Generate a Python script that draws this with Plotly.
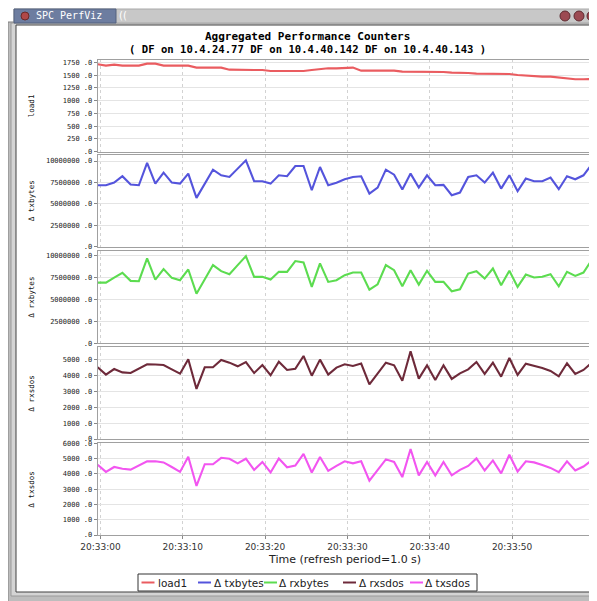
import plotly.graph_objects as go
import pandas as pd

# page body has an 8px margin: the figure is placed at (8, 8) in the 597x601 window
OFF = 8
W, H = 597 - OFF, 601 - OFF

# ---------------- data ----------------
series_names = ["load1", "Δ txbytes", "Δ rxbytes", "Δ rxsdos", "Δ txsdos"]
series_colors = ["#ea5c60", "#5454dc", "#5cdc50", "#6e2a3a", "#f255f0"]

load1 = [1711, 1685, 1704, 1685, 1685, 1685, 1724, 1724, 1685, 1685,
         1685, 1685, 1646, 1646, 1646, 1646, 1606, 1600, 1600, 1600,
         1600, 1580, 1580, 1580, 1580, 1580, 1600, 1619, 1632, 1632,
         1646, 1646, 1587, 1587, 1587, 1587, 1587, 1567, 1567, 1567,
         1567, 1567, 1561, 1548, 1548, 1541, 1528, 1528, 1521, 1521,
         1521, 1502, 1489, 1469, 1469, 1469, 1450, 1430, 1417, 1417,
         1423]

txbytes = [7170000, 7170000, 7480000, 8220000, 7250000, 7170000, 9770000, 7360000, 8640000, 7480000,
           7360000, 8530000, 5700000, 7360000, 8990000, 8330000, 8140000, 9110000, 10080000, 7640000,
           7640000, 7360000, 8330000, 8220000, 9420000, 9420000, 6590000, 9300000, 7170000, 7460000,
           7870000, 8140000, 8220000, 6200000, 6900000, 8990000, 8410000, 6670000, 8530000, 6900000,
           8330000, 7170000, 7210000, 6010000, 6320000, 8140000, 8330000, 7480000, 8640000, 6780000,
           8330000, 6470000, 7950000, 7640000, 7640000, 8060000, 6710000, 8220000, 7870000, 8330000,
           9610000]

rxbytes = [6930000, 6930000, 7510000, 8050000, 7130000, 7090000, 9690000, 7280000, 8470000, 7470000,
           7200000, 8430000, 5670000, 7320000, 8930000, 8240000, 7890000, 8930000, 9960000, 7590000,
           7590000, 7280000, 8160000, 8160000, 9390000, 9230000, 6440000, 9120000, 7010000, 7200000,
           7780000, 8080000, 8080000, 6130000, 6740000, 8930000, 8350000, 6510000, 8350000, 6700000,
           8280000, 7010000, 7010000, 5940000, 6170000, 7970000, 8240000, 7390000, 8540000, 6630000,
           8280000, 6440000, 7850000, 7510000, 7590000, 7890000, 6510000, 8160000, 7700000, 8080000,
           9500000]

rxsdos = [4500, 4040, 4390, 4180, 4140, 4410, 4690, 4670, 4640, 4370,
          4100, 5000, 3140, 4500, 4500, 4960, 4790, 4560, 4830, 4140,
          4640, 4000, 4850, 4330, 4410, 5210, 3970, 4980, 4040, 4480,
          4690, 4580, 4730, 3430, 4120, 4790, 4620, 3660, 5500, 3790,
          4620, 3700, 4620, 3770, 4120, 4370, 4830, 4080, 4790, 3910,
          5080, 4020, 4730, 4600, 4460, 4270, 3930, 4750, 4080, 4330,
          4790]

txsdos = [4600, 4130, 4450, 4330, 4280, 4560, 4820, 4820, 4750, 4450,
          4130, 5120, 3210, 4630, 4630, 5050, 4990, 4690, 4990, 4260,
          4780, 4090, 5010, 4430, 4540, 5310, 4090, 5100, 4200, 4520,
          4820, 4690, 4820, 3550, 4280, 4950, 4780, 3790, 5630, 3900,
          4780, 3900, 4780, 3900, 4260, 4520, 5010, 4220, 4880, 4030,
          5250, 4150, 4820, 4750, 4580, 4390, 4110, 4820, 4220, 4480,
          4880]

series_values = [load1, txbytes, rxbytes, rxsdos, txsdos]

# sample times: one sample per refresh period (1.0 s)
times = pd.date_range("2000-01-01 20:32:59.670", periods=len(load1), freq="1s")

y_tickvals = [
    [0, 250, 500, 750, 1000, 1250, 1500, 1750],
    [0, 2500000, 5000000, 7500000, 10000000],
    [0, 2500000, 5000000, 7500000, 10000000],
    [0, 1000, 2000, 3000, 4000, 5000],
    [0, 1000, 2000, 3000, 4000, 5000, 6000],
]
y_ticktext = [
    [".0", "250 .0", "500 .0", "750 .0", "1000 .0", "1250 .0", "1500 .0", "1750 .0"],
    [".0", "2500000 .0", "5000000 .0", "7500000 .0", "10000000 .0"],
    [".0", "2500000 .0", "5000000 .0", "7500000 .0", "10000000 .0"],
    [".0", "1000 .0", "2000 .0", "3000 .0", "4000 .0", "5000 .0"],
    [".0", "1000 .0", "2000 .0", "3000 .0", "4000 .0", "5000 .0", "6000 .0"],
]
y_ranges = [[0, 1795], [0, 10700000], [0, 10540000], [0, 5753], [0, 6000]]

x_tickvals = pd.to_datetime(["2000-01-01 20:33:00", "2000-01-01 20:33:10", "2000-01-01 20:33:20",
                             "2000-01-01 20:33:30", "2000-01-01 20:33:40", "2000-01-01 20:33:50"])
x_ticktext = ["20:33:00", "20:33:10", "20:33:20", "20:33:30", "20:33:40", "20:33:50"]
x_range = [pd.Timestamp("2000-01-01 20:32:59.670"), pd.Timestamp("2000-01-01 20:33:59.670")]

title_text = "Aggregated Performance Counters"
subtitle_text = "( DF on 10.4.24.77 DF on 10.4.40.142 DF on 10.4.40.143 )"
xaxis_title = "Time (refresh period=1.0 s)"
window_title = "SPC PerfViz"

# ---------------- layout helpers (window pixel -> paper) ----------------
def px(x):
    return (x - OFF) / W

def py(y):
    return 1 - (y - OFF) / H

plot_left, plot_right = 97.7, 591.7
panel_px = [(60, 151.7), (155, 246.7), (251, 343.3), (347.3, 439), (443.3, 535)]

fig = go.Figure()
layout = dict(
    width=W, height=H,
    autosize=False,
    margin=dict(l=0, r=0, t=0, b=0, pad=0, autoexpand=False),
    paper_bgcolor="white",
    plot_bgcolor="#f8f8f8",
    showlegend=False,
)

for k in range(5):
    n = k + 1
    xa = "x" if n == 1 else f"x{n}"
    ya = "y" if n == 1 else f"y{n}"
    fig.add_trace(go.Scatter(
        x=times, y=series_values[k], mode="lines", name=series_names[k],
        line=dict(color=series_colors[k], width=2.1),
        xaxis=xa, yaxis=ya,
    ))
    top, bot = panel_px[k]
    layout[f"xaxis{'' if n == 1 else n}"] = dict(
        domain=[px(plot_left), px(plot_right)],
        anchor=ya, range=x_range, type="date", automargin=False,
        tickvals=x_tickvals, ticktext=x_ticktext,
        showticklabels=(n == 5),
        ticks="outside" if n == 5 else "", ticklen=3, tickcolor="#888888",
        tickfont=dict(family="DejaVu Sans", size=9, color="#333333"),
        showgrid=True, gridcolor="#d2d2d2", griddash="dot", gridwidth=1,
        showline=True, linecolor="#a0a0a0", linewidth=1, mirror=True,
        zeroline=False,
        **({} if n == 1 else dict(matches="x")),
    )
    layout[f"yaxis{'' if n == 1 else n}"] = dict(
        domain=[py(bot), py(top)],
        anchor=xa, range=y_ranges[k], automargin=False,
        tickvals=y_tickvals[k], ticktext=y_ticktext[k],
        ticks="outside", ticklen=3, tickcolor="#888888",
        tickfont=dict(family="DejaVu Sans Mono", size=7, color="#222222"),
        showgrid=True, gridcolor="#e4e4e4", gridwidth=1,
        showline=True, linecolor="#a0a0a0", linewidth=1, mirror=True,
        zeroline=False,
    )

shapes = []
annotations = []

# window chrome
shapes.append(dict(type="rect", xref="paper", yref="paper", layer="below",
                   x0=px(8), x1=px(598), y0=py(602), y1=py(22),
                   fillcolor="#bdbdbd", line=dict(color="#808080", width=1)))
shapes.append(dict(type="rect", xref="paper", yref="paper", layer="below",
                   x0=px(11), x1=px(598), y0=py(596), y1=py(23),
                   fillcolor="#d4d4d4", line=dict(color="#9a9a9a", width=1)))
shapes.append(dict(type="rect", xref="paper", yref="paper", layer="below",
                   x0=px(16), x1=px(598), y0=py(592), y1=py(25),
                   fillcolor="white", line=dict(color="#404040", width=1)))
# title bar
shapes.append(dict(type="rect", xref="paper", yref="paper", layer="below",
                   x0=px(14), x1=px(598), y0=py(23), y1=py(9),
                   fillcolor="#c8c8c8", line=dict(color="#a8a8a8", width=1)))
shapes.append(dict(type="rect", xref="paper", yref="paper", layer="below",
                   x0=px(14), x1=px(116), y0=py(23), y1=py(9),
                   fillcolor="#6d7da0", line=dict(color="#55627f", width=1)))
shapes.append(dict(type="circle", xref="paper", yref="paper",
                   x0=px(21), x1=px(29), y0=py(20), y1=py(12),
                   fillcolor="#b04848", line=dict(color="#6a2a2a", width=1)))
for cx in (565, 579, 592):
    shapes.append(dict(type="circle", xref="paper", yref="paper",
                       x0=px(cx - 5), x1=px(cx + 5), y0=py(21), y1=py(11),
                       fillcolor="#9c4a52", line=dict(color="#5e2a30", width=1)))
annotations.append(dict(x=px(34), y=py(16), xref="paper", yref="paper",
                        text=window_title, showarrow=False, xanchor="left", yanchor="middle",
                        font=dict(family="DejaVu Sans Mono", size=10, color="white")))
annotations.append(dict(x=px(117), y=py(16), xref="paper", yref="paper",
                        text="((", showarrow=False, xanchor="left", yanchor="middle",
                        font=dict(family="DejaVu Sans", size=10, color="#ffffff")))

# titles
annotations.append(dict(x=px(307), y=py(36.5), xref="paper", yref="paper",
                        text=f"<b>{title_text}</b>", showarrow=False, yanchor="middle",
                        font=dict(family="DejaVu Sans Mono", size=11, color="black")))
annotations.append(dict(x=px(307), y=py(48.5), xref="paper", yref="paper",
                        text=f"<b>{subtitle_text}</b>", showarrow=False, yanchor="middle",
                        font=dict(family="DejaVu Sans Mono", size=10.6, color="black")))

# y-axis titles
for k in range(5):
    top, bot = panel_px[k]
    annotations.append(dict(x=px(31.5), y=py((top + bot) / 2), xref="paper", yref="paper",
                            text=series_names[k], showarrow=False, textangle=-90,
                            xanchor="center", yanchor="middle",
                            font=dict(family="DejaVu Sans Mono", size=7.6, color="#111111")))

# x-axis title
annotations.append(dict(x=px((plot_left + plot_right) / 2), y=py(559), xref="paper", yref="paper",
                        text=xaxis_title, showarrow=False, yanchor="middle",
                        font=dict(family="DejaVu Sans", size=11, color="#222222")))

# legend (drawn box with short line samples)
shapes.append(dict(type="rect", xref="paper", yref="paper",
                   x0=px(138), x1=px(477), y0=py(591), y1=py(574),
                   fillcolor="white", line=dict(color="#333333", width=1)))
legend_line_x = [141.5, 198, 264, 343, 410]
legend_text_x = [156, 211.5, 277, 357, 423]
for k in range(5):
    shapes.append(dict(type="line", xref="paper", yref="paper",
                       x0=px(legend_line_x[k]), x1=px(legend_line_x[k] + 13),
                       y0=py(582.5), y1=py(582.5),
                       line=dict(color=series_colors[k], width=2)))
    annotations.append(dict(x=px(legend_text_x[k]), y=py(582.5), xref="paper", yref="paper",
                            text=series_names[k], showarrow=False, xanchor="left", yanchor="middle",
                            font=dict(family="DejaVu Sans", size=10.5, color="#222222")))

layout["shapes"] = shapes
layout["annotations"] = annotations
fig.update_layout(**layout)

fig.write_html("out.html")
